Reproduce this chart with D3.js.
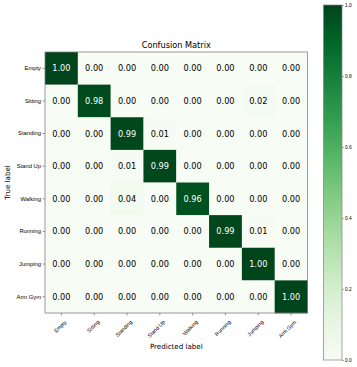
<!DOCTYPE html>
<html><head><meta charset="utf-8">
<script src="https://cdn.jsdelivr.net/npm/d3@7"></script>
<style>body{margin:0;background:#fff}svg{display:block;font-family:"DejaVu Sans",sans-serif}</style>
</head><body><svg id="c" width="357" height="367"></svg>
<script>
const labels = ["Empty","Sitting","Standing","Stand Up","Walking","Running","Jumping","Arm Gym"];
const matrix = [
 [1.00,0.00,0.00,0.00,0.00,0.00,0.00,0.00],
 [0.00,0.98,0.00,0.00,0.00,0.00,0.02,0.00],
 [0.00,0.00,0.99,0.01,0.00,0.00,0.00,0.00],
 [0.00,0.00,0.01,0.99,0.00,0.00,0.00,0.00],
 [0.00,0.00,0.04,0.00,0.96,0.00,0.00,0.00],
 [0.00,0.00,0.00,0.00,0.00,0.99,0.01,0.00],
 [0.00,0.00,0.00,0.00,0.00,0.00,1.00,0.00],
 [0.00,0.00,0.00,0.00,0.00,0.00,0.00,1.00]
];
const cbTicks = [0.0,0.2,0.4,0.6,0.8,1.0];

const svg = d3.select("#c");
const L=45, T=52, R=307.5, B=313;
const x = d3.scaleBand().domain(d3.range(8)).range([L,R]);
const y = d3.scaleBand().domain(d3.range(8)).range([T,B]);
const color = d3.scaleSequential(d3.interpolateGreens).domain([0,1]);

const cells = [];
matrix.forEach((row,i)=>row.forEach((v,j)=>cells.push({i,j,v})));
svg.append("g").selectAll("rect").data(cells).join("rect")
  .attr("x",d=>x(d.j)).attr("y",d=>y(d.i))
  .attr("width",x.bandwidth()+0.3).attr("height",y.bandwidth()+0.3)
  .attr("fill",d=>color(d.v));
svg.append("g").selectAll("text").data(cells).join("text")
  .attr("x",d=>x(d.j)+x.bandwidth()/2).attr("y",d=>y(d.i)+y.bandwidth()/2)
  .attr("text-anchor","middle").attr("dominant-baseline","central")
  .attr("font-size",8.2)
  .attr("fill",d=>d.v>0.5?"#fff":"#000")
  .text(d=>d.v.toFixed(2));
svg.append("rect").attr("x",L).attr("y",T).attr("width",R-L).attr("height",B-T)
  .attr("fill","none").attr("stroke","#808080").attr("stroke-width",0.8);

const xa = d3.axisBottom(d3.scaleBand().domain(labels).range([L,R])).tickSize(2.5).tickSizeOuter(0);
const gx = svg.append("g").attr("transform",`translate(0,${B})`).call(xa);
gx.select(".domain").remove();
gx.selectAll("line").attr("stroke","#555").attr("stroke-width",0.6);
gx.selectAll("text").attr("font-size",5.3).attr("fill","#000")
  .attr("text-anchor","end").attr("dy",0).attr("y",0)
  .attr("transform","translate(5.5,9.5) rotate(-45)");

const ya = d3.axisLeft(d3.scaleBand().domain(labels).range([T,B])).tickSize(2.5).tickSizeOuter(0);
const gy = svg.append("g").attr("transform",`translate(${L},0)`).call(ya);
gy.select(".domain").remove();
gy.selectAll("line").attr("stroke","#555").attr("stroke-width",0.6);
gy.selectAll("text").attr("font-size",5.8).attr("fill","#000").attr("x",-4);

svg.append("text").attr("x",(L+R)/2).attr("y",T-4).attr("text-anchor","middle")
  .attr("font-size",8.2).attr("fill","#000").text("Confusion Matrix");
svg.append("text").attr("x",(L+R)/2).attr("y",349).attr("text-anchor","middle")
  .attr("font-size",7.1).attr("fill","#000").text("Predicted label");
svg.append("text").attr("transform",`translate(9.5,${(T+B)/2}) rotate(-90)`).attr("text-anchor","middle")
  .attr("font-size",7.1).attr("fill","#000").text("True label");

// colorbar
const cbL=323.5, cbR=342, cbT=5, cbB=360;
const cy = d3.scaleLinear().domain([0,1]).range([cbB,cbT]);
const defs = svg.append("defs");
const grad = defs.append("linearGradient").attr("id","g").attr("x1",0).attr("y1",1).attr("x2",0).attr("y2",0);
d3.range(0,1.0001,0.05).forEach(t=>grad.append("stop").attr("offset",t).attr("stop-color",color(t)));
svg.append("rect").attr("x",cbL).attr("y",cbT).attr("width",cbR-cbL).attr("height",cbB-cbT)
  .attr("fill","url(#g)").attr("stroke","#808080").attr("stroke-width",0.7);
const ca = d3.axisRight(cy).tickValues(cbTicks).tickFormat(d3.format(".1f")).tickSize(2).tickSizeOuter(0);
const gc = svg.append("g").attr("transform",`translate(${cbR},0)`).call(ca);
gc.select(".domain").remove();
gc.selectAll("line").attr("stroke","#555").attr("stroke-width",0.5);
gc.selectAll("text").attr("font-size",4.8).attr("fill","#000").attr("x",3);
</script></body></html>
